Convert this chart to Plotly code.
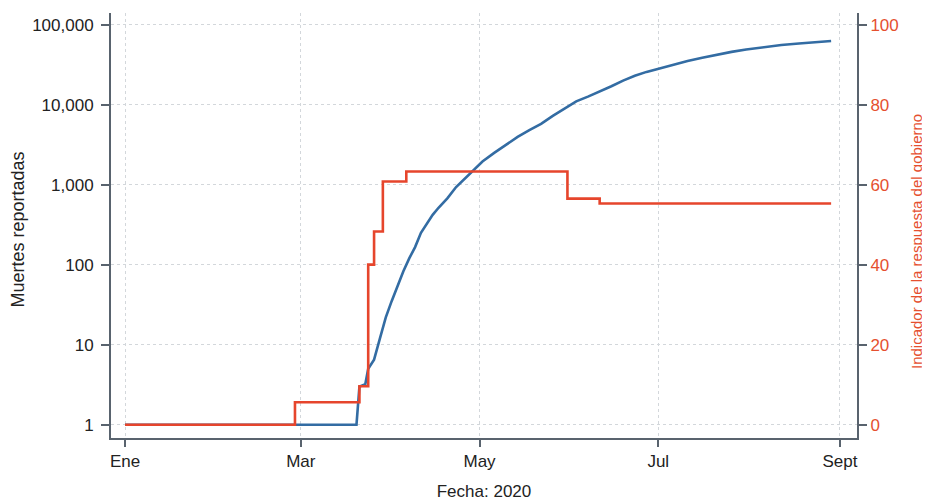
import plotly.graph_objects as go

# ---- data ----
fechas_muertes = ["2020-01-01", "2020-03-20", "2020-03-21", "2020-03-23", "2020-03-24",
                  "2020-03-26", "2020-03-28", "2020-03-30", "2020-04-01", "2020-04-03",
                  "2020-04-05", "2020-04-07", "2020-04-09", "2020-04-11", "2020-04-13",
                  "2020-04-15", "2020-04-17", "2020-04-20", "2020-04-23", "2020-04-26",
                  "2020-04-29", "2020-05-02", "2020-05-06", "2020-05-10", "2020-05-14",
                  "2020-05-18", "2020-05-22", "2020-05-26", "2020-05-30", "2020-06-03",
                  "2020-06-07", "2020-06-11", "2020-06-15", "2020-06-19", "2020-06-23",
                  "2020-06-27", "2020-07-01", "2020-07-06", "2020-07-11", "2020-07-16",
                  "2020-07-21", "2020-07-26", "2020-07-31", "2020-08-06", "2020-08-12",
                  "2020-08-18", "2020-08-24", "2020-08-29"]
muertes = [1, 1, 3, 3.2, 5,
           6.5, 12, 22, 35, 54,
           83, 120, 166, 250, 330,
           420, 515, 675, 935, 1200,
           1550, 1950, 2500, 3150, 3950,
           4800, 5750, 7250, 8900, 11000,
           12600, 14500, 17000, 20000, 23000,
           25700, 28200, 31600, 35100, 38500,
           42200, 45700, 49000, 52500, 55600,
           58200, 60300, 62400]

fechas_indicador = ["2020-01-01", "2020-02-28", "2020-03-21", "2020-03-24", "2020-03-26",
                    "2020-03-29", "2020-04-06", "2020-05-31", "2020-06-11", "2020-08-29"]
indicador = [0, 5.6, 9.6, 40, 48.3, 60.8, 63.3, 56.5, 55.3, 55.3]

x_tick_fechas = ["2020-01-01", "2020-03-01", "2020-05-01", "2020-07-01", "2020-09-01"]
x_tick_text = ["Ene", "Mar", "May", "Jul", "Sept"]

y_tick_vals = [1, 10, 100, 1000, 10000, 100000]
y_tick_text = ["1", "10", "100", "1,000", "10,000", "100,000"]

y2_tick_vals = [0, 20, 40, 60, 80, 100]

# ---- style ----
FONT = "Liberation Sans"
AXIS = "#59636e"
GRID = "#d3d7db"
BLUE = "#336ca3"
RED = "#e6452c"
RED_TXT = "#e5502f"

fig = go.Figure()
fig.add_trace(go.Scatter(x=fechas_muertes, y=muertes, mode="lines",
                         line=dict(color=BLUE, width=2.6), yaxis="y",
                         showlegend=False))
fig.add_trace(go.Scatter(x=fechas_indicador, y=indicador, mode="lines",
                         line=dict(color=RED, width=2.6, shape="hv"), yaxis="y2",
                         showlegend=False))

# The page body has an 8px default margin, so the figure is sized 922x493.
fig.update_layout(
    width=922, height=493,
    margin=dict(l=103, r=73, t=5, b=63),
    paper_bgcolor="white", plot_bgcolor="white",
    font=dict(family=FONT, size=17, color="#222222"),
    xaxis=dict(
        type="date", automargin=False,
        range=["2019-12-27 05:00", "2020-09-06 20:00"],
        tickvals=x_tick_fechas, ticktext=x_tick_text,
        ticks="outside", ticklen=7, tickwidth=1.5, tickcolor=AXIS,
        showline=True, linecolor=AXIS, linewidth=2,
        showgrid=True, gridcolor=GRID, gridwidth=1, griddash="dot",
        zeroline=False,
        tickfont=dict(size=17, color="#222222"),
        title=dict(text="Fecha: 2020", font=dict(size=17, color="#222222"), standoff=22),
    ),
    yaxis=dict(
        type="log", automargin=False,
        range=[-0.166, 5.146],
        tickvals=y_tick_vals, ticktext=y_tick_text,
        ticks="outside", ticklen=8, tickwidth=1.5, tickcolor=AXIS,
        showline=True, linecolor=AXIS, linewidth=2,
        showgrid=True, gridcolor=GRID, gridwidth=1, griddash="dot",
        zeroline=False,
        tickfont=dict(size=17, color="#222222"),
        ticklabelstandoff=4,
    ),
    yaxis2=dict(
        overlaying="y", side="right", automargin=False,
        range=[-3.33, 102.9],
        tickvals=y2_tick_vals,
        ticks="outside", ticklen=8, tickwidth=1.5, tickcolor=AXIS,
        showline=True, linecolor=AXIS, linewidth=2,
        showgrid=False, zeroline=False,
        tickfont=dict(size=17, color=RED_TXT),
    ),
    annotations=[
        dict(text="Muertes reportadas", xref="paper", yref="paper",
             x=(17 - 111) / 746, y=(438 - 229.5) / 425, xanchor="center", yanchor="middle",
             textangle=-90, showarrow=False, font=dict(size=18, color="#222222")),
        dict(text="Indicador de la respuesta del gobierno", xref="paper", yref="paper",
             x=(916 - 111) / 746, y=(438 - 242) / 425, xanchor="center", yanchor="middle",
             textangle=-90, showarrow=False, font=dict(size=15, color=RED_TXT)),
    ],
)

fig.write_html("out.html")
